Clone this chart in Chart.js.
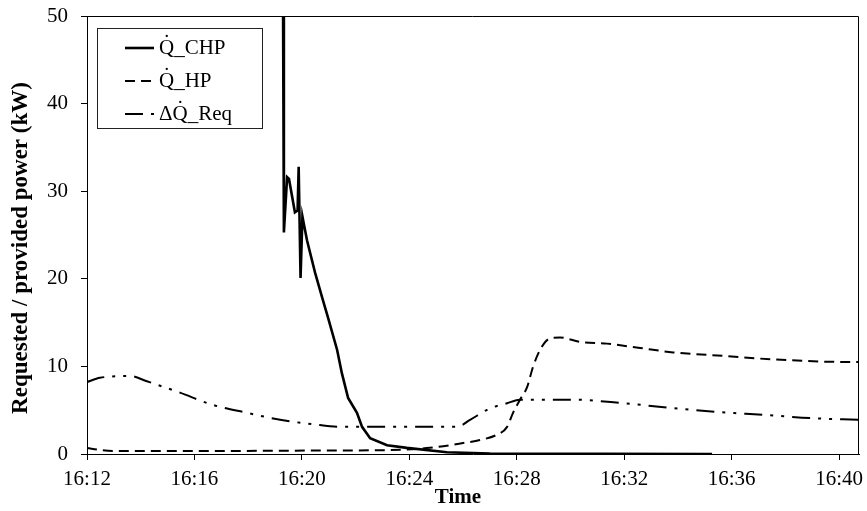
<!DOCTYPE html>
<html>
<head>
<meta charset="utf-8">
<script src="https://cdn.jsdelivr.net/npm/chart.js@4"></script>
<style>
  body { margin: 0; background: #fff; }
  canvas { display: block; }
</style>
</head>
<body>
<canvas id="powerChart" width="867" height="511"></canvas>
<script>
// time axis: minutes after 16:12
const START_MIN = 16 * 60 + 12;
const X_MAX = 28.74;
const xTicks = [0, 4, 8, 12, 16, 20, 24, 28];
const yTicks = [0, 10, 20, 30, 40, 50];

// Q_CHP (solid)
const chpTime = [7.30, 7.33, 7.45, 7.52, 7.74, 7.84, 7.88, 7.95, 8.02, 8.19, 8.49, 8.75, 8.97, 9.31, 9.49, 9.72, 10.05, 10.24, 10.54, 11.17, 11.91, 13.4, 15.0, 23.27];
const chpPower = [50, 25.3, 31.6, 31.4, 27.6, 27.8, 32.8, 20.1, 27.1, 24.4, 20.7, 17.9, 15.6, 11.9, 9.2, 6.4, 4.7, 3.1, 1.8, 1.0, 0.7, 0.2, 0.05, 0];

// Q_HP (dashed)
const hpTime = [0, 0.5, 1.0, 5, 9, 11.28, 12.77, 14.0, 14.63, 15.26, 15.64, 15.86, 16.12, 16.38, 16.6, 16.87, 17.24, 17.61, 18.35, 19.36, 20.59, 21.82, 23.68, 25.54, 28.41, 28.74];
const hpPower = [0.7, 0.45, 0.35, 0.35, 0.4, 0.45, 0.7, 1.25, 1.6, 2.2, 3.1, 4.7, 6.2, 7.6, 9.9, 11.9, 13.2, 13.3, 12.8, 12.6, 12.1, 11.6, 11.2, 10.8, 10.5, 10.5];

// dQ_Req (dash-dot-dot)
const reqTime = [0, 0.48, 1.6, 2.23, 3.46, 4.69, 5.96, 7.19, 8.41, 9.42, 12.03, 13.78, 14.26, 15.0, 15.64, 16.12, 18.09, 19.96, 21.6, 23.45, 25.32, 26.92, 28.74];
const reqPower = [8.2, 8.7, 8.9, 8.3, 7.0, 5.6, 4.7, 3.9, 3.4, 3.1, 3.1, 3.1, 3.9, 5.2, 5.8, 6.2, 6.2, 5.8, 5.3, 4.8, 4.45, 4.1, 3.9];

const SERIF = '"Liberation Serif", "Times New Roman", serif';

function toPoints(t, v) {
    return t.map((x, i) => ({ x: x, y: v[i] }));
}

function clock(m) {
    const total = Math.round(START_MIN + m);
    const h = Math.floor(total / 60);
    const mm = total % 60;
    return h + ':' + (mm < 10 ? '0' : '') + mm;
}

// frame on top/right, axis titles and boxed legend inside the plot
const frameLegend = {
    id: 'frameLegend',
    afterDatasetsDraw(chart) {
        const ctx = chart.ctx;
        const a = chart.chartArea;
        ctx.save();
        ctx.strokeStyle = '#000';
        ctx.lineWidth = 1;
        ctx.beginPath();
        ctx.moveTo(a.left, a.top + 0.5);
        ctx.lineTo(a.right - 0.5, a.top + 0.5);
        ctx.lineTo(a.right - 0.5, a.bottom);
        ctx.stroke();

        // axis titles
        ctx.fillStyle = '#000';
        ctx.textAlign = 'center';
        ctx.textBaseline = 'middle';
        ctx.font = 'bold 21px ' + SERIF;
        ctx.fillText('Time', a.left + 371, 498);
        ctx.save();
        ctx.translate(21, 248);
        ctx.rotate(-Math.PI / 2);
        ctx.font = 'bold 23px ' + SERIF;
        ctx.fillText('Requested / provided power (kW)', 0, 0);
        ctx.restore();

        // legend
        const bx = a.left + 10, by = a.top + 12, bw = 165, bh = 100;
        ctx.fillStyle = '#fff';
        ctx.fillRect(bx, by, bw, bh);
        ctx.strokeStyle = '#222';
        ctx.strokeRect(bx + 0.5, by + 0.5, bw, bh);

        ctx.textAlign = 'left';
        chart.data.datasets.forEach((ds, i) => {
            const y = by + 20 + i * 33;
            ctx.setLineDash(ds.borderDash || []);
            ctx.lineWidth = ds.borderWidth;
            ctx.strokeStyle = ds.borderColor;
            ctx.beginPath();
            ctx.moveTo(bx + 28, y);
            ctx.lineTo(bx + 57, y);
            ctx.stroke();
            ctx.setLineDash([]);
            ctx.fillStyle = '#000';
            ctx.font = '21px ' + SERIF;
            ctx.fillText(ds.label, bx + 62, y);
        });
        ctx.restore();
    }
};

new Chart(document.getElementById('powerChart').getContext('2d'), {
    type: 'line',
    data: {
        datasets: [
            {
                label: 'Q\u0307_CHP',
                data: toPoints(chpTime, chpPower),
                borderColor: '#000',
                borderWidth: 2.6,
                pointRadius: 0,
                tension: 0
            },
            {
                label: 'Q\u0307_HP',
                data: toPoints(hpTime, hpPower),
                borderColor: '#000',
                borderWidth: 2,
                borderDash: [10, 6],
                pointRadius: 0,
                cubicInterpolationMode: 'monotone'
            },
            {
                label: '\u0394Q\u0307_Req',
                data: toPoints(reqTime, reqPower),
                borderColor: '#000',
                borderWidth: 2,
                borderDash: [18, 8, 3, 8, 3, 8],
                pointRadius: 0,
                cubicInterpolationMode: 'monotone'
            }
        ]
    },
    options: {
        responsive: false,
        animation: false,
        layout: { padding: { top: 16, right: 8, left: 0, bottom: 0 } },
        plugins: {
            legend: { display: false },
            tooltip: { enabled: false }
        },
        scales: {
            x: {
                type: 'linear',
                min: 0,
                max: X_MAX,
                afterBuildTicks: (s) => { s.ticks = xTicks.map(v => ({ value: v })); },
                afterFit: (s) => { s.height = 57; s.paddingLeft = 0; s.paddingRight = 0; },
                grid: { drawOnChartArea: false, drawTicks: true, tickLength: 6, color: '#000' },
                border: { color: '#000', width: 1 },
                ticks: {
                    color: '#000',
                    padding: 7,
                    maxRotation: 0,
                    font: { family: SERIF, size: 21 },
                    callback: (v) => clock(v)
                },
                title: { display: false }
            },
            y: {
                min: 0,
                max: 50,
                afterBuildTicks: (s) => { s.ticks = yTicks.map(v => ({ value: v })); },
                afterFit: (s) => { s.width = 87; s.paddingTop = 0; s.paddingBottom = 0; },
                grid: { drawOnChartArea: false, drawTicks: true, tickLength: 6, color: '#000' },
                border: { color: '#000', width: 1 },
                ticks: {
                    color: '#000',
                    padding: 13,
                    font: { family: SERIF, size: 21 }
                },
                title: { display: false }
            }
        }
    },
    plugins: [frameLegend]
});
</script>
</body>
</html>
